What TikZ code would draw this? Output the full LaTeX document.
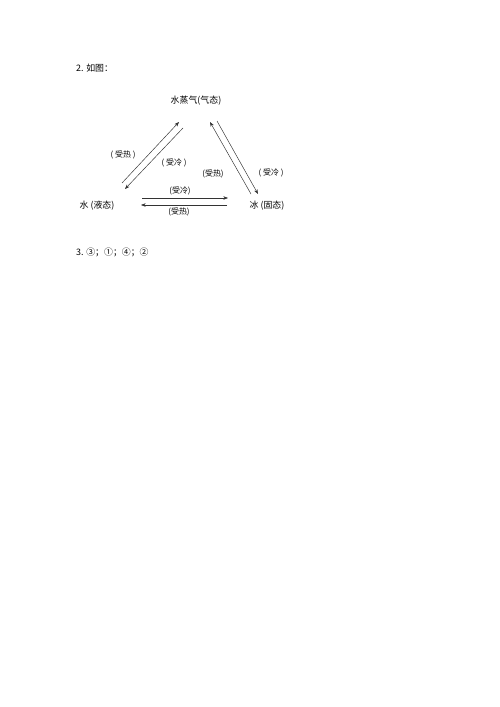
\documentclass[tikz,border=0pt]{standalone}
\usepackage{fontspec}
\newfontfamily\cjk{Noto Sans CJK SC}
\usetikzlibrary{arrows.meta}
\usetikzlibrary{positioning}

\begin{document}
\begin{tikzpicture}
  [x=0.3mm,y=-0.3mm,
  txt/.style={inner sep=0pt,font=\cjk\fontsize{7.6}{9}\selectfont},
  lbl/.style={inner sep=0pt,font=\cjk\fontsize{6.8}{8}\selectfont},
  arr/.style={-{Stealth[length=4pt,width=3pt]},thin,black!80}]
  \useasboundingbox (0,0) rectangle (500,707);

  \node[txt,anchor=west] (q2) at (76,68) {2. 如图：};
  \node[txt] (gas) at (196,101) {水蒸气(气态)};
  \node[txt] (water) at (97,206) {水 (液态)};
  \node[txt] (ice) at (267,206) {冰 (固态)};
  \node[txt,anchor=west] (q3) at (76,252) {3. ③；①；④；②};

  % left side
  \coordinate (a1) at (122,183);
  \coordinate (a2) at (179,122);
  \coordinate (b1) at (183,128);
  \coordinate (b2) at (125,189);
  % right side
  \coordinate (c1) at (251,194);
  \coordinate (c2) at (210,122);
  \coordinate (d1) at (217,121);
  \coordinate (d2) at (258,194);
  % bottom
  \coordinate (e1) at (142,198);
  \coordinate (e2) at (228,198);
  \coordinate (f1) at (227,205);
  \coordinate (f2) at (141,205);

  \draw [arr] (a1) -- (a2);
  \draw [arr] (b1) -- (b2);
  \draw [arr] (c1) -- (c2);
  \draw [arr] (d1) -- (d2);
  \draw [arr] (e1) -- (e2);
  \draw [arr] (f1) -- (f2);

  \node[lbl] (heat1) at (123,155) {(\ 受热 )};
  \node[lbl] (cold1) at (174,163) {(\ 受冷 )};
  \node[lbl] (heat2) at (213,174) {(受热)};
  \node[lbl] (cold2) at (271,173) {(\ 受冷 )};
  \node[lbl] (cold3) at (180,191) {(受冷)};
  \node[lbl] (heat3) at (179,212) {(受热)};
\end{tikzpicture}
\end{document}
